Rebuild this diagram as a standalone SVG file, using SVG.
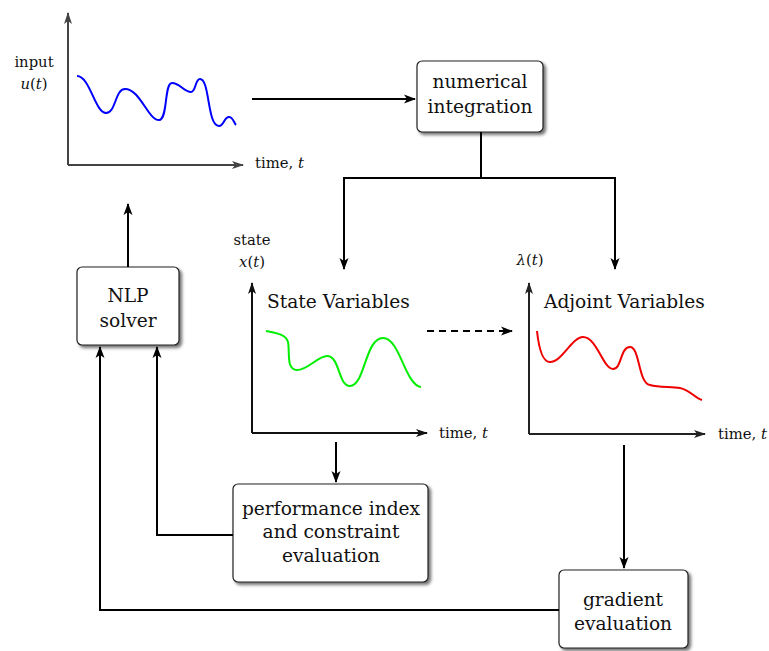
<svg xmlns="http://www.w3.org/2000/svg" width="769" height="651" viewBox="0 0 769 651" font-family="'DejaVu Serif', serif">
<defs>
<marker id="arr" markerUnits="userSpaceOnUse" markerWidth="14" markerHeight="10" refX="11" refY="5" orient="auto">
<path d="M0,0.5 L12,5 L0,9.5 L3,5 Z" fill="#000"/>
</marker>
<marker id="arrAx" markerUnits="userSpaceOnUse" markerWidth="14" markerHeight="10" refX="11" refY="5" orient="auto">
<path d="M0,1 L12,5 L0,9 L3,5 Z" fill="context-stroke"/>
</marker>
<filter id="sh" x="-20%" y="-20%" width="140%" height="140%">
<feDropShadow dx="2.5" dy="2.5" stdDeviation="1.6" flood-color="#000" flood-opacity="0.55"/>
</filter>
</defs>
<style>
text{font-family:'DejaVu Serif',serif;fill:#111}
.big{font-size:18.6px}
.sm{font-size:14.8px}
.box{fill:#fff;stroke:#222;stroke-width:1.2;filter:url(#sh)}
.ax{fill:none;stroke-width:2;marker-end:url(#arrAx)}
.con{fill:none;stroke:#000;stroke-width:2}
.arrow{marker-end:url(#arr)}
.curve{fill:none;stroke-width:2}
.it{font-style:italic}
</style>

<g id="input-plot">
<path class="ax" stroke="#444" d="M68,165 V13"/>
<path class="ax" stroke="#444" d="M68,165 H243"/>
<path class="curve" stroke="#0000ff" d="M77,76 C90,76 95,113 106,113 C116,113 115,89 125,89 C140,89 148,120 159,120 C168,120 164,83 172,83 C180,83 184,92 191,92 C196,92 195,79 200,79 C210,79 207,126 219,126 C224,126 224,117 229,117 C233,117 234,123 236,125"/>
<text class="sm" x="34" y="67" text-anchor="middle">input</text>
<text class="sm" x="34" y="89" text-anchor="middle"><tspan class="it">u</tspan>(<tspan class="it">t</tspan>)</text>
<text class="sm" x="255" y="168">time, <tspan class="it">t</tspan></text>
</g>

<g id="numerical-integration">
<rect class="box" x="417" y="61" width="126" height="71" rx="5"/>
<text class="big" x="480" y="88" text-anchor="middle">numerical</text>
<text class="big" x="480" y="113" text-anchor="middle">integration</text>
</g>

<g id="state-plot">
<path class="ax" stroke="#111" d="M252,433 V283"/>
<path class="ax" stroke="#111" d="M252,433 H427"/>
<path class="curve" stroke="#00ee00" d="M266,331 C275,333 286,334 288,342 C290,352 286,370 297,370 C308,370 318,356 327,356 C340,356 338,386 350,386 C365,386 365,338 383,338 C400,338 405,385 421,387"/>
<text class="sm" x="252" y="245" text-anchor="middle">state</text>
<text class="sm" x="252" y="267" text-anchor="middle"><tspan class="it">x</tspan>(<tspan class="it">t</tspan>)</text>
<text class="big" x="267" y="308">State Variables</text>
<text class="sm" x="439" y="438">time, <tspan class="it">t</tspan></text>
</g>

<g id="adjoint-plot">
<path class="ax" stroke="#222" d="M529,434 V283"/>
<path class="ax" stroke="#222" d="M529,434 H705"/>
<path class="curve" stroke="#ee0000" d="M537,331 C539,350 543,362 550,362 C562,362 572,337 583,337 C597,337 603,369 613,369 C622,369 620,347 630,347 C640,347 638,383 650,385 C660,388 672,386 680,388 C690,390 695,398 702,400"/>
<text class="sm" x="530" y="265" text-anchor="middle"><tspan class="it">λ</tspan>(<tspan class="it">t</tspan>)</text>
<text class="big" x="544" y="308">Adjoint Variables</text>
<text class="sm" x="718" y="439">time, <tspan class="it">t</tspan></text>
</g>

<g id="nlp-solver">
<rect class="box" x="77" y="267" width="102" height="78" rx="5"/>
<text class="big" x="128" y="302" text-anchor="middle">NLP</text>
<text class="big" x="128" y="327" text-anchor="middle">solver</text>
</g>

<g id="performance-index">
<rect class="box" x="233" y="484" width="195" height="98" rx="5"/>
<text class="big" x="331" y="515" text-anchor="middle">performance index</text>
<text class="big" x="331" y="538" text-anchor="middle">and constraint</text>
<text class="big" x="331" y="562" text-anchor="middle">evaluation</text>
</g>

<g id="gradient-evaluation">
<rect class="box" x="559" y="570" width="129" height="78" rx="5"/>
<text class="big" x="623" y="606" text-anchor="middle">gradient</text>
<text class="big" x="623" y="630" text-anchor="middle">evaluation</text>
</g>

<g id="connectors">
<path class="con arrow" d="M252,99 H415"/>
<path class="con arrow" d="M481,132 V178 H344 V269"/>
<path class="con arrow" d="M481,178 H615 V269"/>
<path class="con arrow" d="M427,331 H512" stroke-dasharray="7,5"/>
<path class="con arrow" d="M336,442 V482"/>
<path class="con arrow" d="M624,445 V568"/>
<path class="con arrow" d="M233,535 H157 V347"/>
<path class="con arrow" d="M559,610 H100 V347"/>
<path class="con arrow" d="M128,267 V204"/>
</g>
</svg>
